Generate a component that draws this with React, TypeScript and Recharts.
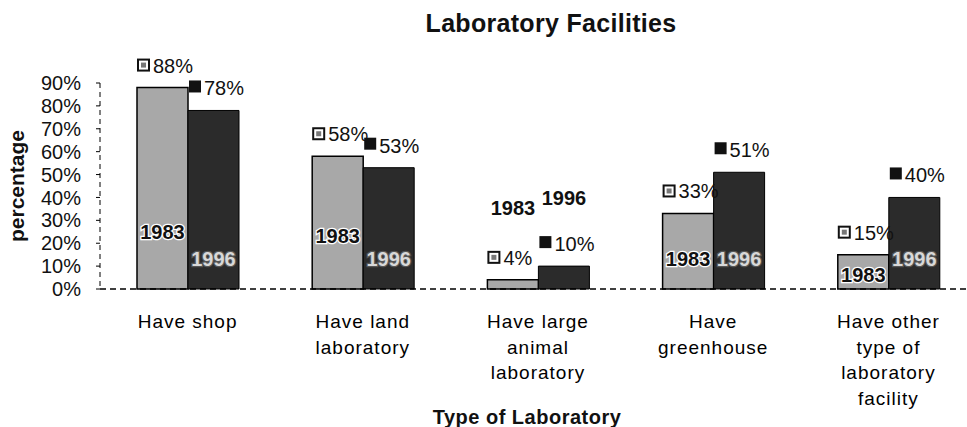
import React from "react";
import { BarChart, Bar, XAxis, YAxis, LabelList, Label } from "recharts";

const categories = [
  "Have shop",
  "Have land\nlaboratory",
  "Have large\nanimal\nlaboratory",
  "Have\ngreenhouse",
  "Have other\ntype of\nlaboratory\nfacility",
];
const values1983 = [88, 58, 4, 33, 15];
const values1996 = [78, 53, 10, 51, 40];
const seriesNames = ["1983", "1996"];
const yTicks = [0, 10, 20, 30, 40, 50, 60, 70, 80, 90];

const data = categories.map((name, i) => ({
  name,
  y1983: values1983[i],
  y1996: values1996[i],
}));

const FONT = "'Liberation Sans', Arial, sans-serif";

function CategoryTick(props: any) {
  const { x, y, payload } = props;
  const lines = String(payload.value).split("\n");
  return (
    <text
      x={x}
      y={y}
      textAnchor="middle"
      fill="#000"
      fontSize={19}
      letterSpacing={1}
      fontFamily={FONT}
    >
      {lines.map((line, i) => (
        <tspan key={i} x={x} dy={i === 0 ? 39 : 25.5}>
          {line}
        </tspan>
      ))}
    </text>
  );
}

// data label: legend key square + percentage above the bar
function makeValueLabel(dark: boolean) {
  return (props: any) => {
    const { x, y, value } = props;
    const cy = y - 22;
    return (
      <g>
        {dark ? (
          <rect x={x + 1} y={cy - 8} width={12} height={12} fill="#111" />
        ) : (
          <g>
            <rect x={x + 1} y={cy - 6} width={11} height={11} fill="#fff" stroke="#111" strokeWidth={2} />
            <rect x={x + 4} y={cy - 3} width={5} height={5} fill="#777" />
          </g>
        )}
        <text x={x + 16} y={cy + 7} fontSize={20} fontFamily={FONT} fill="#111">
          {value}%
        </text>
      </g>
    );
  };
}

// series name label inside (or above short) bars
function makeNameLabel(idx: number) {
  return (props: any) => {
    const { x, y, width, height } = props;
    const cx = x + width / 2;
    const bottom = y + height;
    let cy: number;
    let inside = true;
    if (height < 25) {
      cy = y - (idx === 0 ? 72 : 68);
      inside = false;
    } else if (idx === 0) {
      cy = bottom - Math.min(57, height * 0.4);
    } else {
      cy = bottom - 30;
    }
    const fill = !inside ? "#111" : idx === 0 ? "#111" : "#d8d8d8";
    const stroke = !inside ? "none" : idx === 0 ? "#fff" : "#555";
    return (
      <text
        x={cx}
        y={cy + 7}
        textAnchor="middle"
        fontSize={20}
        fontWeight="bold"
        fontFamily={FONT}
        fill={fill}
        stroke={stroke}
        strokeWidth={inside ? 2.5 : 0}
        paintOrder="stroke"
      >
        {seriesNames[idx]}
      </text>
    );
  };
}

export default function App() {
  return (
    <div
      style={{
        position: "absolute",
        left: 0,
        top: 0,
        width: 967,
        height: 427,
        overflow: "hidden",
        background: "#fff",
        fontFamily: FONT,
      }}
    >
      <div
        style={{
          position: "absolute",
          left: 551,
          top: 9,
          transform: "translateX(-50%)",
          fontSize: 25,
          letterSpacing: 0.3,
          fontWeight: "bold",
          whiteSpace: "nowrap",
          color: "#111",
        }}
      >
        Laboratory Facilities
      </div>
      <BarChart
        width={976}
        height={427}
        data={data}
        margin={{ top: 83, right: 0, left: 0, bottom: 0 }}
        barGap={0}
        barSize={51}
      >
        <XAxis
          dataKey="name"
          interval={0}
          height={138}
          tickLine={false}
          tickSize={0}
          tickMargin={0}
          axisLine={{ stroke: "#000", strokeDasharray: "6 4", strokeWidth: 1.5 }}
          tick={<CategoryTick />}
        >
          <Label
            value="Type of Laboratory"
            position="insideBottom"
            offset={3}
            dx={-11}
            style={{ fontSize: 20, letterSpacing: 0.5, fontWeight: "bold", fill: "#111", fontFamily: FONT }}
          />
        </XAxis>
        <YAxis
          domain={[0, 90]}
          ticks={yTicks}
          interval={0}
          width={100}
          tickSize={4}
          tickMargin={15}
          tickFormatter={(v: number) => `${v}%`}
          axisLine={{ stroke: "#000", strokeDasharray: "5 4" }}
          tickLine={{ stroke: "#000" }}
          tick={{ fontSize: 20, fill: "#111", fontFamily: FONT }}
        >
          <Label
            value="percentage"
            angle={-90}
            position="insideLeft"
            offset={17}
            style={{ fontSize: 21, fontWeight: "bold", fill: "#111", textAnchor: "middle", fontFamily: FONT }}
          />
        </YAxis>
        <Bar dataKey="y1983" fill="#a8a8a8" stroke="#000" strokeWidth={1.5} isAnimationActive={false}>
          <LabelList dataKey="y1983" content={makeValueLabel(false)} />
          <LabelList dataKey="y1983" content={makeNameLabel(0)} />
        </Bar>
        <Bar dataKey="y1996" fill="#2b2b2b" stroke="#000" strokeWidth={1} isAnimationActive={false}>
          <LabelList dataKey="y1996" content={makeValueLabel(true)} />
          <LabelList dataKey="y1996" content={makeNameLabel(1)} />
        </Bar>
      </BarChart>
    </div>
  );
}
